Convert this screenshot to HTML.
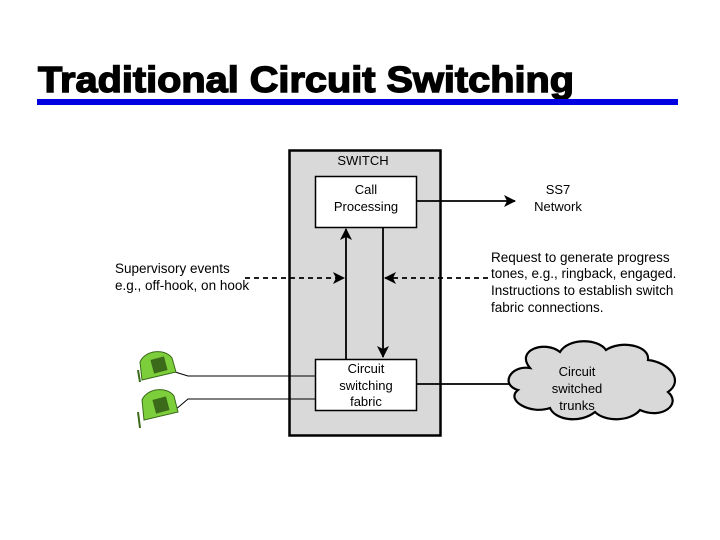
<!DOCTYPE html>
<html><head><style>body{margin:0;background:#fff}svg{display:block}</style></head><body>
<svg width="720" height="540" viewBox="0 0 720 540" xmlns="http://www.w3.org/2000/svg" font-family="Liberation Sans, Arial, sans-serif">
<defs>
<marker id="a" markerWidth="12" markerHeight="12" refX="11" refY="6" orient="auto" markerUnits="userSpaceOnUse"><path d="M0,0 L12,6 L0,12 L3,6 z" fill="#000"/></marker>
</defs>
<text x="38" y="92" font-size="36" font-weight="bold" textLength="536" lengthAdjust="spacingAndGlyphs" stroke="#000" stroke-width="1.4">Traditional Circuit Switching</text>
<rect x="37" y="99" width="641" height="6" fill="#0000e0"/>
<rect x="289.5" y="150.5" width="151" height="285" fill="#d9d9d9" stroke="#000" stroke-width="2.5"/>
<text x="363" y="165" font-size="13" text-anchor="middle">SWITCH</text>
<rect x="315.5" y="176.5" width="101" height="51" fill="#fff" stroke="#000" stroke-width="1.5"/>
<text x="366" y="194" font-size="13" text-anchor="middle">Call</text>
<text x="366" y="211" font-size="13" text-anchor="middle">Processing</text>
<rect x="315.5" y="359.5" width="101" height="51" fill="#fff" stroke="#000" stroke-width="1.5"/>
<text x="366" y="373" font-size="13" text-anchor="middle">Circuit</text>
<text x="366" y="390" font-size="13" text-anchor="middle">switching</text>
<text x="366" y="406" font-size="13" text-anchor="middle">fabric</text>
<line x1="346" y1="359" x2="346" y2="229" stroke="#000" stroke-width="1.8" marker-end="url(#a)"/>
<line x1="383" y1="228" x2="383" y2="357" stroke="#000" stroke-width="1.8" marker-end="url(#a)"/>
<line x1="245" y1="278" x2="344" y2="278" stroke="#000" stroke-width="1.8" stroke-dasharray="5,4" marker-end="url(#a)"/>
<line x1="488" y1="278" x2="385" y2="278" stroke="#000" stroke-width="1.8" stroke-dasharray="5,4" marker-end="url(#a)"/>
<line x1="417" y1="201" x2="515" y2="201" stroke="#000" stroke-width="1.8" marker-end="url(#a)"/>
<text x="558" y="194" font-size="13" text-anchor="middle">SS7</text>
<text x="558" y="211" font-size="13" text-anchor="middle">Network</text>
<text font-size="13.5" x="115"><tspan x="115" y="273">Supervisory events</tspan><tspan x="115" y="290">e.g., off-hook, on hook</tspan></text>
<text font-size="13.5"><tspan x="491" y="262">Request to generate progress</tspan><tspan x="491" y="278">tones, e.g., ringback, engaged.</tspan><tspan x="491" y="295">Instructions to establish switch</tspan><tspan x="491" y="312">fabric connections.</tspan></text>
<line x1="417" y1="384" x2="512" y2="384" stroke="#000" stroke-width="1.8"/>
<path d="M530,368 C515,350 545,340 560,352 C568,338 598,338 606,350 C620,340 650,345 648,360 C668,362 685,380 668,392 C682,404 662,420 640,410 C630,422 605,422 595,412 C580,424 555,420 550,408 C530,415 505,400 518,390 C500,385 510,365 530,368 Z" fill="#d9d9d9" stroke="#000" stroke-width="2.2"/>
<text x="577" y="376" font-size="13" text-anchor="middle">Circuit</text>
<text x="577" y="393" font-size="13" text-anchor="middle">switched</text>
<text x="577" y="410" font-size="13" text-anchor="middle">trunks</text>
<path d="M175,372 L188,376 L315,376" fill="none" stroke="#000" stroke-width="1"/>
<path d="M175,410 L188,399 L315,399" fill="none" stroke="#000" stroke-width="1"/>
<g>
<path d="M140,362 C145,350 165,348 172,358 L176,372 L142,380 Z" fill="#7ccf3a" stroke="#3a6a1a"/>
<rect x="152" y="358" width="14" height="14" fill="#3a6a1a" transform="rotate(-15 159 365)"/>
<path d="M138,370 L140,382" stroke="#3a6a1a" stroke-width="2"/>
</g>
<g>
<path d="M142,400 C147,388 167,386 174,396 L178,412 L144,420 Z" fill="#7ccf3a" stroke="#3a6a1a"/>
<rect x="154" y="398" width="14" height="14" fill="#3a6a1a" transform="rotate(-15 161 405)"/>
<path d="M138,412 L140,428" stroke="#3a6a1a" stroke-width="2"/>
</g>
</svg>
</body></html>
